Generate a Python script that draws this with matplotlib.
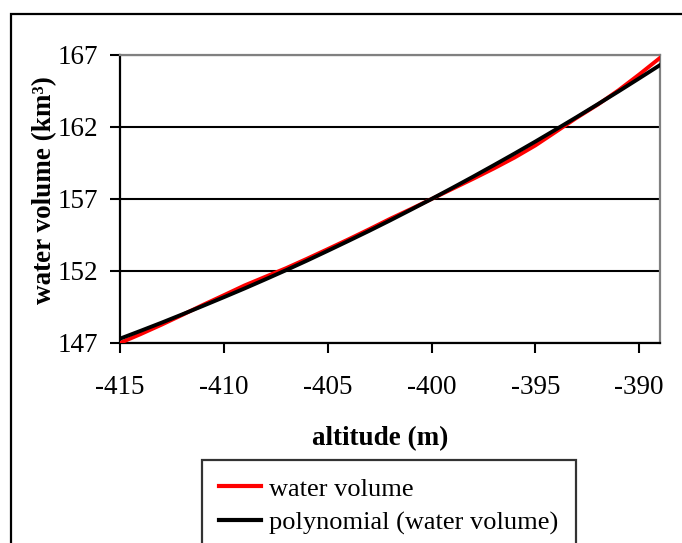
import matplotlib
matplotlib.use("Agg")
import matplotlib.pyplot as plt
from matplotlib.patches import Rectangle

# altitude (m) and measured water volume (km3), 1 m steps
altitude = [-415, -414, -413, -412, -411, -410, -409, -408, -407, -406,
            -405, -404, -403, -402, -401, -400, -399, -398, -397, -396,
            -395, -394, -393, -392, -391, -390, -389]
volume = [147.00, 147.62, 148.27, 148.95, 149.65, 150.32, 151.00, 151.60,
          152.20, 152.85, 153.52, 154.20, 154.90, 155.62, 156.30, 157.00,
          157.70, 158.40, 159.12, 159.88, 160.72, 161.68, 162.65, 163.55,
          164.55, 165.65, 166.80]
# polynomial trendline values at the same altitudes
trend = [147.30, 147.85, 148.41, 148.99, 149.58, 150.18, 150.79, 151.42,
         152.06, 152.72, 153.40, 154.09, 154.79, 155.51, 156.25, 157.00,
         157.77, 158.55, 159.35, 160.16, 160.99, 161.84, 162.70, 163.58,
         164.47, 165.38, 166.30]

xticks = [-415, -410, -405, -400, -395, -390]
yticks = [147, 152, 157, 162, 167]

plt.rcParams['font.family'] = ['Liberation Serif', 'DejaVu Serif']
plt.rcParams['axes.unicode_minus'] = False
fs = 19.5

fig = plt.figure(figsize=(6.82, 5.43), dpi=100)
ax = fig.add_axes([120 / 682, 1 - 343 / 543, 540 / 682, 288 / 543])

ax.plot(altitude, volume, color='#ff0000', lw=2.8, label='water volume', zorder=3)
ax.plot(altitude, trend, color='black', lw=2.8, label='polynomial (water volume)', zorder=4)

ax.set_xlim(-415, -389)
ax.set_ylim(147, 167)
ax.set_xticks(xticks)
ax.set_yticks(yticks)
ax.grid(axis='y', color='black', lw=1.5)
ax.set_axisbelow(True)

for side in ['left', 'bottom']:
    ax.spines[side].set_color('black')
    ax.spines[side].set_linewidth(1.6)
for side in ['top', 'right']:
    ax.spines[side].set_color('#808080')
    ax.spines[side].set_linewidth(1.6)

ax.tick_params(axis='x', direction='out', length=7, width=1.5, pad=16, labelsize=fs)
ax.tick_params(axis='y', direction='out', length=7, width=1.5, pad=9, labelsize=fs)

ax.set_xlabel('altitude (m)', fontsize=fs, fontweight='bold')
ax.xaxis.set_label_coords(0.481, -0.29)
ax.set_ylabel('water volume (km³)', fontsize=fs, fontweight='bold')
ax.yaxis.set_label_coords(-0.117, 0.53)

leg = fig.legend(loc='upper left', bbox_to_anchor=(202 / 682, 1 - 460 / 543),
                 fontsize=19, frameon=True, fancybox=False, borderpad=0.65,
                 handlelength=1.6, handletextpad=0.3, labelspacing=0.4,
                 borderaxespad=0)
leg.get_frame().set_edgecolor('black')
leg.get_frame().set_linewidth(1.6)
for line in leg.get_lines():
    line.set_linewidth(3)

# chart area border
fig.patches.append(Rectangle((11 / 682, -0.2), 1.2, 1.2 - 14 / 543, transform=fig.transFigure,
                             fill=False, edgecolor='black', lw=1.6))

fig.savefig('out.png', dpi=100)
